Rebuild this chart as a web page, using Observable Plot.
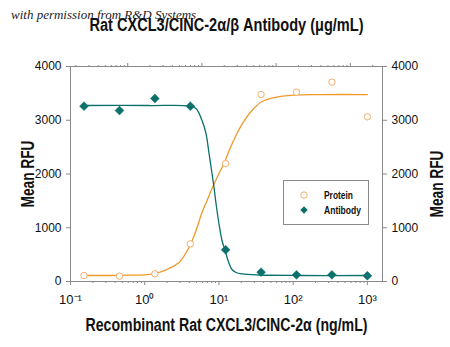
<!DOCTYPE html>
<html><head><meta charset="utf-8">
<script src="https://cdn.jsdelivr.net/npm/d3@7"></script>
<script src="https://cdn.jsdelivr.net/npm/@observablehq/plot@0.6"></script>
<style>
body{margin:0;background:#fff;}
#wrap{position:relative;width:450px;height:347px;overflow:hidden;}
#wm{position:absolute;left:11px;top:7px;font-family:"Liberation Serif",serif;font-style:italic;font-size:13px;color:#222;white-space:nowrap;}
#chart{position:absolute;left:0;top:0;}
#legend{position:absolute;left:283px;top:180px;}
</style></head><body><div id="wrap"><div id="wm">with permission from R&amp;D Systems</div><div id="chart"></div><div id="legend"></div></div>
<script>
// Concentrations (ng/mL) of recombinant protein
const conc = [0.152, 0.457, 1.37, 4.12, 12.3, 37.0, 111, 333, 1000];
const proteinRFU = [112, 100, 143, 700, 2195, 3479, 3522, 3708, 3064];
const antibodyRFU = [3262, 3181, 3405, 3262, 590, 174, 124, 124, 106];

// Fitted curves
const proteinCurveX = [0.152, 0.451, 1.33, 2.12, 2.90, 3.95, 4.91, 5.92, 6.92, 8.07, 9.73, 11.7, 14.1, 17.0, 21.1, 27.9, 38.1, 55.3, 103, 223, 1000];
const proteinCurveY = [112, 115, 143, 242, 353, 632, 949, 1283, 1507, 1730, 1972, 2195, 2474, 2716, 2957, 3181, 3348, 3422, 3469, 3478, 3478];
const antibodyCurveX = [0.152, 1.14, 4.07, 4.91, 5.92, 6.70, 7.36, 8.07, 8.59, 9.14, 10.0, 11.0, 12.1, 13.7, 15.0, 17.0, 20.5, 34.7, 120, 1000];
const antibodyCurveY = [3274, 3274, 3264, 3218, 2995, 2753, 2381, 2009, 1748, 1451, 1079, 763, 577, 335, 223, 167, 140, 121, 112, 112];

// Axis ticks
const yTicks = [0, 1000, 2000, 3000, 4000];
const xMajor = [0.1, 1, 10, 100, 1000];
const xMajorLabels = ["10⁻¹", "10⁰", "10¹", "10²", "10³"];
const topMajor = [0.1, 1, 10, 100];           // µg/mL
const topMajorLabels = ["10⁻¹", "10⁰", "10¹", "10²"];
const topToBottom = 5.9;                       // µg/mL tick → ng/mL position

const xTitle = "Recombinant Rat CXCL3/CINC-2α (ng/mL)";
const topTitle = "Rat CXCL3/CINC-2α/β Antibody (μg/mL)";
const yTitle = "Mean RFU";
const seriesNames = ["Protein", "Antibody"];

const cOrange = "#ee9a2b", cOrangeLight = "#f3ae6c", cTeal = "#0b706b", cAxis = "#8a8a8a";
const font = "'Liberation Sans',Arial,sans-serif";

const xDomain = [0.1, 1600];
const minorBottom = [];
for (let k = -1; k <= 3; k++) for (let m = 2; m <= 9; m++) { const v = m * 10 ** k; if (v > xDomain[0] && v < xDomain[1]) minorBottom.push(v); }
const topMajorPos = topMajor.map(v => v * topToBottom);
const minorTop = [];
for (let k = -2; k <= 2; k++) for (let m = 2; m <= 9; m++) { const v = m * 10 ** k * topToBottom; if (v > xDomain[0] && v < xDomain[1]) minorTop.push(v); }

const points = conc.map((c, i) => ({c, p: proteinRFU[i], a: antibodyRFU[i]}));
const pCurve = proteinCurveX.map((x, i) => ({x, y: proteinCurveY[i]}));
const aCurve = antibodyCurveX.map((x, i) => ({x, y: antibodyCurveY[i]}));

const chart = Plot.plot({
  width: 450, height: 347,
  marginLeft: 70, marginRight: 68, marginTop: 66, marginBottom: 66,
  style: {fontFamily: font, fontSize: "12px", color: "#000", background: "transparent"},
  x: {type: "log", domain: xDomain},
  y: {domain: [0, 4000]},
  marks: [
    Plot.frame({stroke: cAxis}),
    Plot.axisY(yTicks, {anchor: "left", tickSize: 4, tickPadding: 5, stroke: cAxis, fill: "#111", label: null, fontSize: 12, tickFormat: d => String(d)}),
    Plot.axisY(yTicks, {anchor: "right", tickSize: 4, tickPadding: 5, stroke: cAxis, fill: "#111", label: null, fontSize: 12, tickFormat: d => String(d)}),
    Plot.axisX(xMajor, {anchor: "bottom", tickSize: 4, tickPadding: 9, stroke: cAxis, fill: "#111", label: null, fontSize: 13, tickFormat: d => xMajorLabels[xMajor.indexOf(d)]}),
    Plot.axisX(minorBottom, {anchor: "bottom", tickSize: 2, stroke: cAxis, label: null, tickFormat: () => ""}),
    Plot.axisX(topMajorPos, {anchor: "top", tickSize: 4, tickPadding: 7, stroke: cAxis, fill: "#111", label: null, fontSize: 13, tickFormat: d => topMajorLabels[topMajorPos.indexOf(d)]}),
    Plot.axisX(minorTop, {anchor: "top", tickSize: 2, stroke: cAxis, label: null, tickFormat: () => ""}),
    Plot.line(pCurve, {x: "x", y: "y", stroke: cOrange, strokeWidth: 1.3, curve: "catmull-rom"}),
    Plot.line(aCurve, {x: "x", y: "y", stroke: cTeal, strokeWidth: 1.3, curve: "catmull-rom"}),
    Plot.dot(points, {x: "c", y: "p", r: 3.2, stroke: cOrangeLight, fill: "white", strokeWidth: 1}),
    Plot.dot(points, {x: "c", y: "a", r: 4, symbol: "diamond2", fill: cTeal, stroke: cTeal, strokeWidth: 0.5}),
    Plot.text([xTitle], {text: d => d, frameAnchor: "bottom", textAnchor: "middle", dy: 49, fontSize: 18, fontWeight: "bold", fill: "#111"}),
    Plot.text([topTitle], {text: d => d, frameAnchor: "top", textAnchor: "middle", dy: -48, fontSize: 18, fontWeight: "bold", fill: "#111"}),
    Plot.text([yTitle], {text: d => d, frameAnchor: "left", textAnchor: "middle", dx: -42, rotate: -90, fontSize: 18, fontWeight: "bold", fill: "#111"}),
    Plot.text([yTitle], {text: d => d, frameAnchor: "right", textAnchor: "middle", dx: 55, dy: 10, rotate: -90, fontSize: 18, fontWeight: "bold", fill: "#111"})
  ]
});
document.getElementById("chart").appendChild(chart);

// Condense title texts (the original uses a narrow typeface)
const titleWidths = {[xTitle]: 282, [topTitle]: 274, [yTitle]: 67};
d3.select(chart).selectAll("text").each(function () {
  const w = titleWidths[this.textContent];
  if (w) { this.setAttribute("textLength", w); this.setAttribute("lengthAdjust", "spacingAndGlyphs"); }
});

// Legend
const legendWidths = [29, 37];
const lg = d3.select("#legend").append("svg").attr("width", 120).attr("height", 46);
lg.append("rect").attr("x", 0.5).attr("y", 0.5).attr("width", 85).attr("height", 44).attr("fill", "white").attr("stroke", cAxis);
const rows = lg.selectAll("g").data(seriesNames).join("g").attr("transform", (d, i) => `translate(0,${15 + i * 15})`);
rows.filter((d, i) => i === 0).append("circle").attr("cx", 21).attr("cy", 0).attr("r", 3.2).attr("fill", "white").attr("stroke", cOrangeLight);
rows.filter((d, i) => i === 1).append("path").attr("d", d3.symbol(d3.symbolSquare2, 36)()).attr("transform", "translate(21,0) rotate(45)").attr("fill", cTeal);
rows.append("text").attr("x", 41).attr("y", 0).attr("dy", "0.35em").attr("font-family", font).attr("font-size", 11).attr("font-weight", "bold").attr("fill", "#111")
  .attr("textLength", (d, i) => legendWidths[i]).attr("lengthAdjust", "spacingAndGlyphs").text(d => d);
</script></body></html>
